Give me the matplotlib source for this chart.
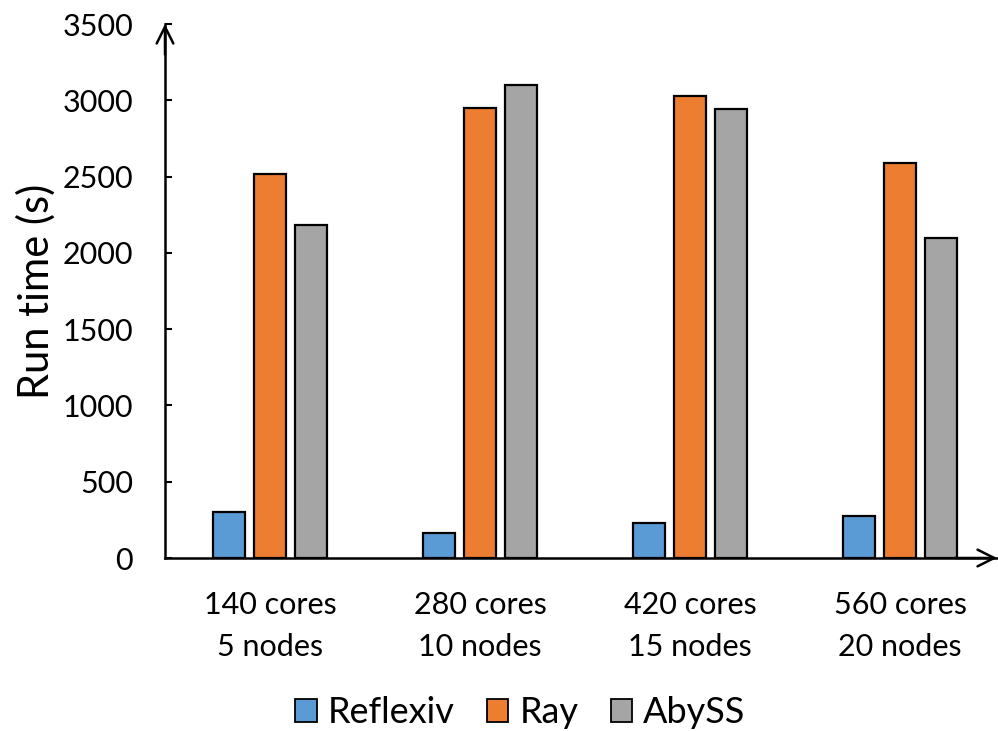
import matplotlib
matplotlib.use("Agg")
import matplotlib.pyplot as plt
import numpy as np

categories = ["140 cores\n5 nodes", "280 cores\n10 nodes", "420 cores\n15 nodes", "560 cores\n20 nodes"]
series_names = ["Reflexiv", "Ray", "AbySS"]
reflexiv = [300, 165, 230, 275]
ray = [2520, 2950, 3030, 2590]
abyss = [2180, 3100, 2940, 2100]
y_ticks = [0, 500, 1000, 1500, 2000, 2500, 3000, 3500]

colors = ["#5B9BD5", "#ED7D31", "#A5A5A5"]

plt.rcParams["font.family"] = ["Lato", "DejaVu Sans"]

fig = plt.figure(figsize=(9.98, 7.31), dpi=100)
ax = fig.add_axes([165 / 998, 1 - 558 / 731, (997 - 165) / 998, (558 - 24) / 731])

x = np.arange(len(categories))
width = 0.155
offsets = [-0.195, 0.0, 0.195]
for vals, off, col, name in zip([reflexiv, ray, abyss], offsets, colors, series_names):
    ax.bar(x + off, vals, width, color=col, edgecolor="black", linewidth=1.6,
           label=name, zorder=2)

ax.set_xlim(-0.5, (997 - 165) / 210 - 0.5)
ax.set_ylim(0, 3500)
ax.set_yticks(y_ticks)
ax.set_xticks(x)
ax.set_xticklabels(categories, fontsize=22, linespacing=1.6)
ax.tick_params(axis="x", length=0, pad=24)
ax.tick_params(axis="y", direction="in", length=5, width=1.5, labelsize=22, pad=23)

for s in ["top", "right"]:
    ax.spines[s].set_visible(False)
ax.spines["left"].set_linewidth(1.8)
ax.spines["bottom"].set_linewidth(1.8)

# open arrowheads at the ends of both axes
xmin, xmax = ax.get_xlim()
ax.annotate("", xy=(xmax, 0), xytext=(xmax - 0.2, 0), xycoords="data",
            arrowprops=dict(arrowstyle="->", lw=1.8, mutation_scale=30, shrinkA=0, shrinkB=0),
            annotation_clip=False)
ax.annotate("", xy=(xmin, 3500), xytext=(xmin, 3300), xycoords="data",
            arrowprops=dict(arrowstyle="->", lw=1.8, mutation_scale=30, shrinkA=0, shrinkB=0),
            annotation_clip=False)

ax.set_ylabel("Run time (s)", fontsize=30, labelpad=5)

leg = ax.legend(loc="center", bbox_to_anchor=(0.427, -0.289), ncol=3, frameon=False,
                fontsize=26, handlelength=0.6, handleheight=0.6, handletextpad=0.3,
                columnspacing=0.9)
for h in leg.legend_handles:
    h.set_linewidth(1.3)

fig.savefig("out.png", dpi=100)
